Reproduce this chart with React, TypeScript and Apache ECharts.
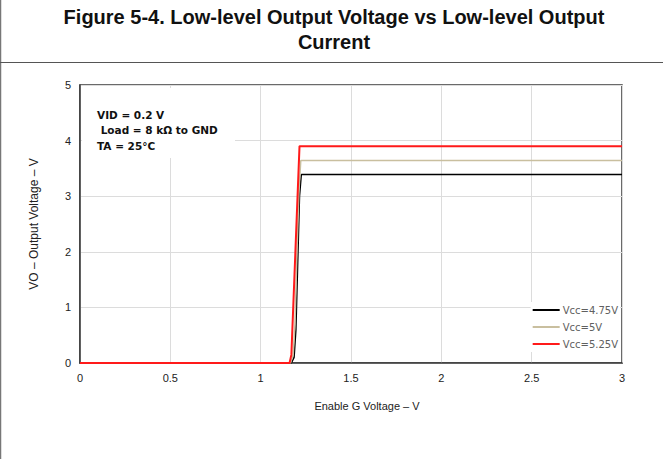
import React, { useEffect, useRef } from "react";
import * as echarts from "echarts";

const xTicks = [0, 0.5, 1, 1.5, 2, 2.5, 3];
const yTicks = [0, 1, 2, 3, 4, 5];

const seriesNames = ["Vcc=4.75V", "Vcc=5V", "Vcc=5.25V"];
const seriesColors = ["#000000", "#c9bf9f", "#ff1a1a"];

const x475 = [0, 1.17, 1.185, 1.195, 1.205, 1.215, 1.225, 3];
const y475 = [0, 0, 0.1, 0.6, 1.8, 3.0, 3.39, 3.39];
const x500 = [0, 1.165, 1.18, 1.19, 1.2, 1.212, 1.222, 3];
const y500 = [0, 0, 0.15, 0.7, 1.9, 3.1, 3.64, 3.64];
const x525 = [0, 1.16, 1.17, 1.215, 3];
const y525 = [0, 0, 0.15, 3.9, 3.9];

const titleLines = ["Figure 5-4. Low-level Output Voltage vs Low-level Output", "Current"];
const noteLines = ["VID = 0.2 V", " Load = 8 kΩ to GND", "TA = 25°C"];

const zip = (xs: number[], ys: number[]) => xs.map((x, i) => [x, ys[i]]);

export default function App() {
  const ref = useRef<HTMLDivElement>(null);
  useEffect(() => {
    if (!ref.current) return;
    const chart = echarts.init(ref.current, undefined, { renderer: "svg" });
    const font = "'Liberation Sans', Arial, sans-serif";
    const data = [zip(x475, y475), zip(x500, y500), zip(x525, y525)];
    chart.setOption({
      animation: false,
      backgroundColor: "#ffffff",
      textStyle: { fontFamily: font },
      grid: {
        left: 80,
        right: 41,
        top: 85,
        bottom: 96,
        show: true,
        borderColor: "#3a3a3a",
        borderWidth: 1.5,
        backgroundColor: "transparent",
      },
      xAxis: {
        type: "value",
        min: xTicks[0],
        max: xTicks[xTicks.length - 1],
        interval: 0.5,
        name: "Enable G Voltage – V",
        nameLocation: "middle",
        nameGap: 37,
        nameTextStyle: { fontSize: 11, color: "#222", padding: [0, 0, 0, 32] },
        axisLine: { show: true, lineStyle: { color: "#3a3a3a", width: 1.5 } },
        axisTick: { show: false },
        axisLabel: { fontSize: 11, color: "#222", margin: 9 },
        splitLine: { show: true, lineStyle: { color: "#dcdcdc", width: 1 } },
      },
      yAxis: {
        type: "value",
        min: yTicks[0],
        max: yTicks[yTicks.length - 1],
        interval: 1,
        name: "VO – Output Voltage – V",
        nameLocation: "middle",
        nameGap: 40,
        nameTextStyle: { fontSize: 12, color: "#222" },
        axisLine: { show: true, lineStyle: { color: "#3a3a3a", width: 1.5 } },
        axisTick: { show: false },
        axisLabel: { fontSize: 11, color: "#222", margin: 9 },
        splitLine: { show: true, lineStyle: { color: "#dcdcdc", width: 1 } },
      },
      legend: {
        orient: "vertical",
        right: 43,
        top: 302,
        backgroundColor: "#ffffff",
        padding: [3, 2, 3, 2],
        icon: "rect",
        itemWidth: 27,
        itemHeight: 2,
        itemGap: 7,
        textStyle: { fontSize: 10, color: "#606060", fontFamily: "'DejaVu Sans', sans-serif", padding: [0, 0, 0, -2] },
        data: seriesNames,
      },
      series: seriesNames.map((n, i) => ({
        name: n,
        type: "line",
        data: data[i],
        showSymbol: false,
        symbol: "none",
        color: seriesColors[i],
        lineStyle: { color: seriesColors[i], width: i === 2 ? 2 : 1.5 },
        z: 2 + i,
      })),
      graphic: [
        { type: "line", shape: { x1: 0.5, y1: 0, x2: 0.5, y2: 459 }, style: { stroke: "#777", lineWidth: 1.5 } },
        { type: "line", shape: { x1: 0, y1: 62.5, x2: 663, y2: 62.5 }, style: { stroke: "#555", lineWidth: 1.2 } },
        {
          type: "text",
          x: 334,
          y: 4,
          style: {
            text: titleLines.join("\n"),
            font: `bold 20px ${font}`,
            fill: "#111",
            align: "center",
            verticalAlign: "top",
            lineHeight: 25,
          },
        },
        { type: "rect", shape: { x: 82, y: 88, width: 153, height: 70 }, style: { fill: "#ffffff" }, z: 10 },
        {
          type: "text",
          x: 97,
          y: 107,
          z: 11,
          style: { text: noteLines.join("\n"), font: `bold 10.5px 'DejaVu Sans', sans-serif`, fill: "#111", lineHeight: 15.5 },
        },
      ],
    });
    return () => chart.dispose();
  }, []);
  return <div ref={ref} style={{ position: "fixed", left: 0, top: 0, width: 663, height: 459 }} />;
}
